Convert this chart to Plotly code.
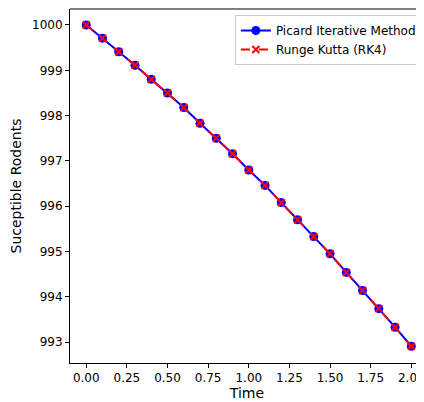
import plotly.graph_objects as go

time = [0.0, 0.1, 0.2, 0.3, 0.4, 0.5, 0.6, 0.7, 0.8, 0.9, 1.0,
        1.1, 1.2, 1.3, 1.4, 1.5, 1.6, 1.7, 1.8, 1.9, 2.0]
picard = [1000.00, 999.71, 999.41, 999.11, 998.80, 998.50, 998.18, 997.83,
          997.50, 997.16, 996.80, 996.46, 996.08, 995.70, 995.33, 994.95,
          994.54, 994.14, 993.74, 993.33, 992.91]
rk4 = list(picard)

x_ticks = [0.0, 0.25, 0.5, 0.75, 1.0, 1.25, 1.5, 1.75, 2.0]
x_tick_labels = ["0.00", "0.25", "0.50", "0.75", "1.00", "1.25", "1.50", "1.75", "2.00"]
y_ticks = [993, 994, 995, 996, 997, 998, 999, 1000]

fig = go.Figure()
fig.add_trace(go.Scatter(
    x=time, y=picard, mode="lines+markers", name="Picard Iterative Method",
    line=dict(color="blue", width=2),
    marker=dict(symbol="circle", size=9, color="blue"),
))
fig.add_trace(go.Scatter(
    x=time, y=rk4, mode="lines+markers", name="Runge Kutta (RK4)",
    line=dict(color="red", width=2, dash="dash"),
    marker=dict(symbol="x-thin", size=7, color="red", line=dict(color="red", width=2)),
))

# the page body has an 8px margin, so the figure is 8px smaller than the window
fig.update_layout(
    width=416, height=394,
    margin=dict(l=62, r=0, t=1, b=39, autoexpand=False),
    paper_bgcolor="white", plot_bgcolor="white",
    font=dict(family="DejaVu Sans", size=12, color="black"),
    showlegend=True,
    legend=dict(x=0.994, y=0.983, xanchor="right", yanchor="top",
                bgcolor="rgba(255,255,255,0.8)", bordercolor="#cccccc", borderwidth=1,
                font=dict(size=12), tracegroupgap=0, itemwidth=30),
    xaxis=dict(range=[-0.1, 2.078], tickvals=x_ticks, ticktext=x_tick_labels,
               automargin=False, ticklabeloverflow="allow",
               showgrid=False, zeroline=False, showline=True, linecolor="black", linewidth=1,
               ticks="outside", ticklen=4, tickcolor="black",
               title=dict(text="Time", standoff=3)),
    yaxis=dict(range=[992.54, 1000.353], tickvals=y_ticks,
               automargin=False,
               showgrid=False, zeroline=False, showline=True, linecolor="black", linewidth=1,
               ticks="outside", ticklen=4, tickcolor="black",
               title=dict(text="Suceptible Rodents", standoff=9)),
    shapes=[dict(type="line", xref="paper", yref="paper", x0=0, x1=1, y0=1, y1=1,
                 line=dict(color="black", width=1))],
)

fig.write_html("out.html")
